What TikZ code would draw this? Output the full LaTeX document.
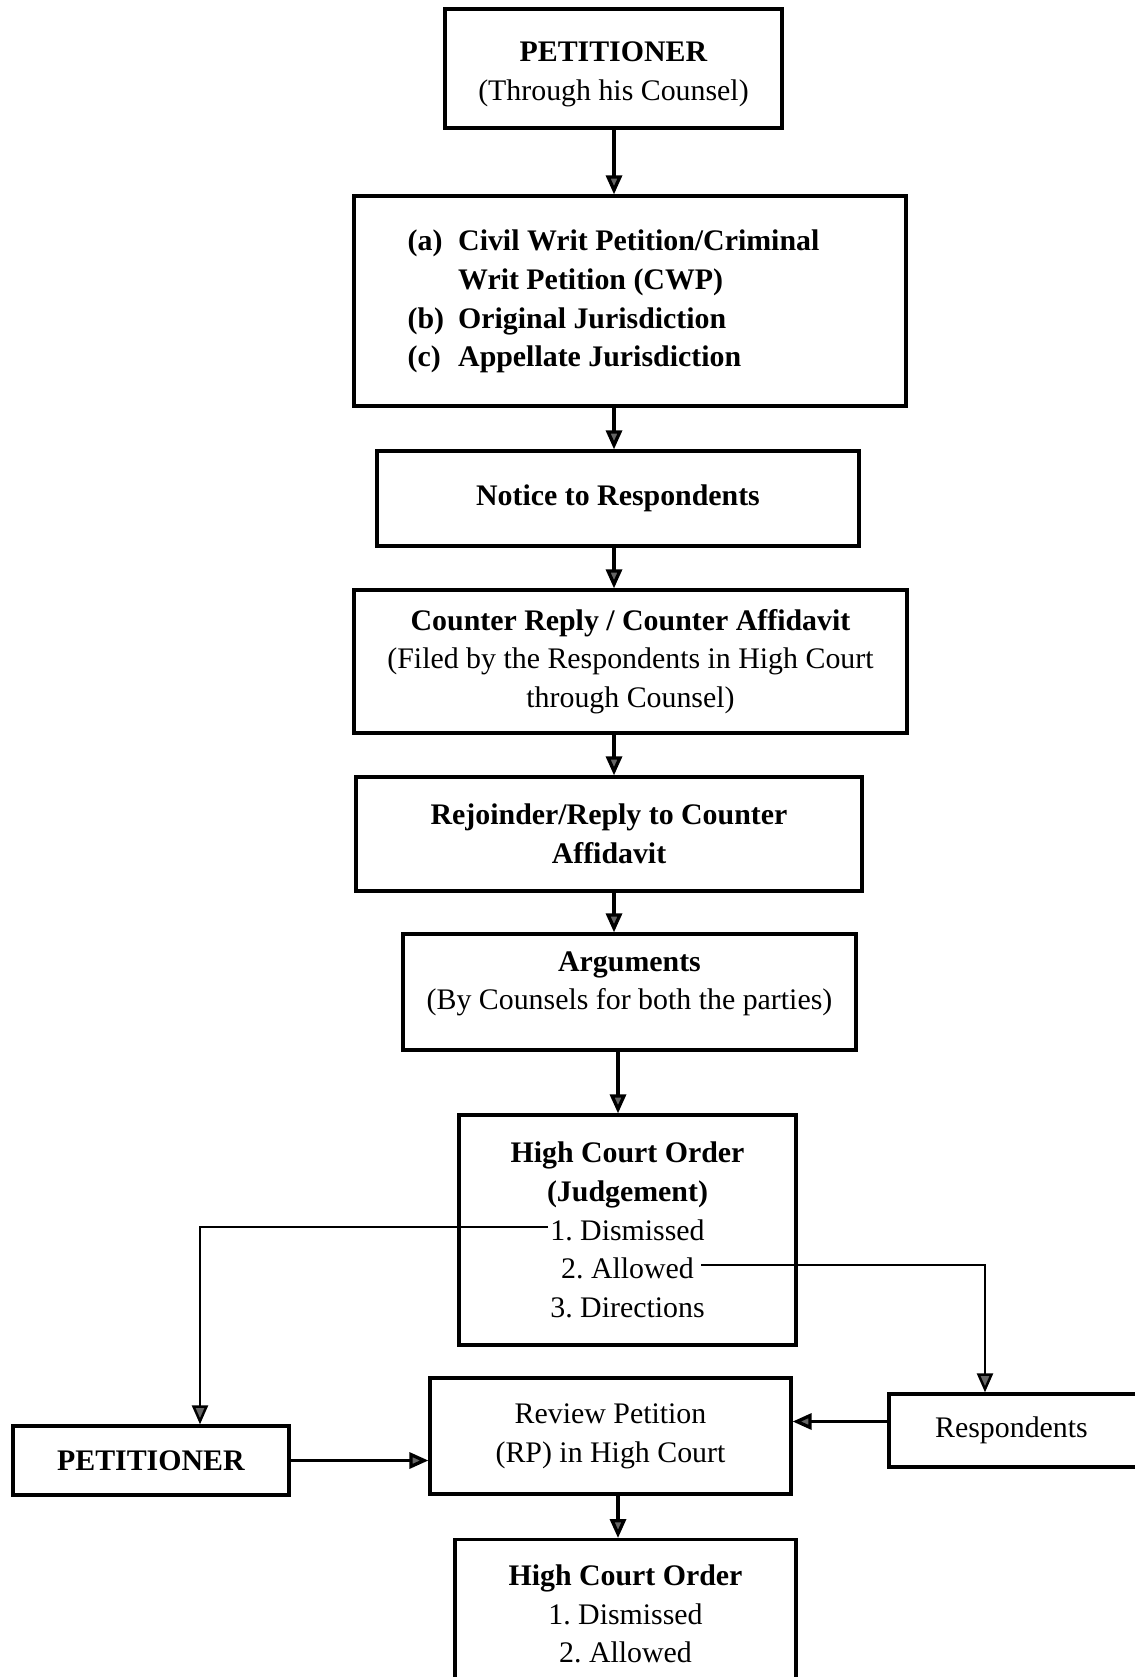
\documentclass[tikz,border=0pt]{standalone}
\usepackage{fontspec}
\setmainfont{Liberation Serif}
\usetikzlibrary{arrows.meta,calc}
\frenchspacing
\tikzset{
  box/.style={draw,line width=1.9pt,align=center,inner sep=0pt,font=\fontsize{17}{22}\selectfont},
  arr/.style={line width=1.9pt,-{Triangle[length=0.38cm,width=0.32cm,fill=black!60]}},
  lnk/.style={line width=1.4pt,-{Triangle[length=0.38cm,width=0.32cm,fill=black!60]}}
}

\begin{document}
\begin{tikzpicture}[x=0.02cm,y=-0.02cm]
\useasboundingbox (0,0) rectangle (1135,1677);
\coordinate (spine) at (614,0);
\coordinate (spinetwo) at (618,0);
% main column
\node[box,minimum width=6.74cm,minimum height=2.38cm] (top) at (613.5,68.5) {\rule{0pt}{0.64cm}\textbf{PETITIONER}\\(Through his Counsel)};
\node[box,minimum width=11.04cm,minimum height=4.2cm] (writ) at (630,301) {\bfseries\begin{tabular}{@{}l@{\hspace{8pt}}l@{}}
(a) & Civil Writ Petition/Criminal\\
 & Writ Petition (CWP)\\
(b) & Original Jurisdiction\\
(c) & Appellate Jurisdiction
\end{tabular}\hspace*{0.66cm}};
\node[box,minimum width=9.64cm,minimum height=1.9cm] (notice) at (618,498.5) {\textbf{Notice to Respondents}};
\node[box,minimum width=11.06cm,minimum height=2.86cm] (counter) at (630.5,661.5) {\textbf{Counter Reply / Counter Affidavit}\\(Filed by the Respondents in High Court\\through Counsel)};
\node[box,minimum width=10.12cm,minimum height=2.28cm] (rejoin) at (609,834) {\textbf{Rejoinder/Reply to Counter}\\\textbf{Affidavit}};
\node[box,minimum width=9.06cm,minimum height=2.32cm] (argue) at (629.5,992) {\textbf{Arguments}\\(By Counsels for both the parties)\rule[-0.45cm]{0pt}{0pt}};
\node[box,minimum width=6.74cm,minimum height=4.6cm] (order) at (627.5,1230) {\textbf{High Court Order}\\\textbf{(Judgement)}\\1. Dismissed\\2. Allowed\\3. Directions};
% review stage
\node[box,minimum width=5.52cm,minimum height=1.38cm] (pet) at (151,1460.5) {\textbf{PETITIONER}};
\node[box,minimum width=7.22cm,minimum height=2.32cm] (review) at (610.5,1436) {Review Petition\\(RP) in High Court};
\node[box,minimum width=5.2cm,minimum height=1.46cm] (resp) at (1019,1430.5) {Respondents\hspace*{0.3cm}};
\node[box,anchor=north,minimum width=6.82cm,inner ysep=0.5cm] (final) at (625.5,1538) {\textbf{High Court Order}\\1. Dismissed\\2. Allowed};
\coordinate (dis) at (548,1227);
\coordinate (alw) at (701,1265);
\coordinate (respin) at ($(resp.west)+(0,-9)$);

\draw[arr] (top.south -| spine) -- (writ.north -| spine);
\draw[arr] (writ.south -| spine) -- (notice.north -| spine);
\draw[arr] (notice.south -| spine) -- (counter.north -| spine);
\draw[arr] (counter.south -| spine) -- (rejoin.north -| spine);
\draw[arr] (rejoin.south -| spine) -- (argue.north -| spine);
\draw[arr] (argue.south -| spinetwo) -- (order.north -| spinetwo);
\draw[lnk] (dis) -| ($(pet.north)+(49,0)$);
\draw[lnk] (alw) -| ($(resp.north)+(-34,0)$);
\draw[arr] (pet.east) -- (pet.east -| review.west);
\draw[arr] (respin) -- (respin -| review.east);
\draw[arr] (review.south -| spinetwo) -- (final.north -| spinetwo);
\end{tikzpicture}
\end{document}
